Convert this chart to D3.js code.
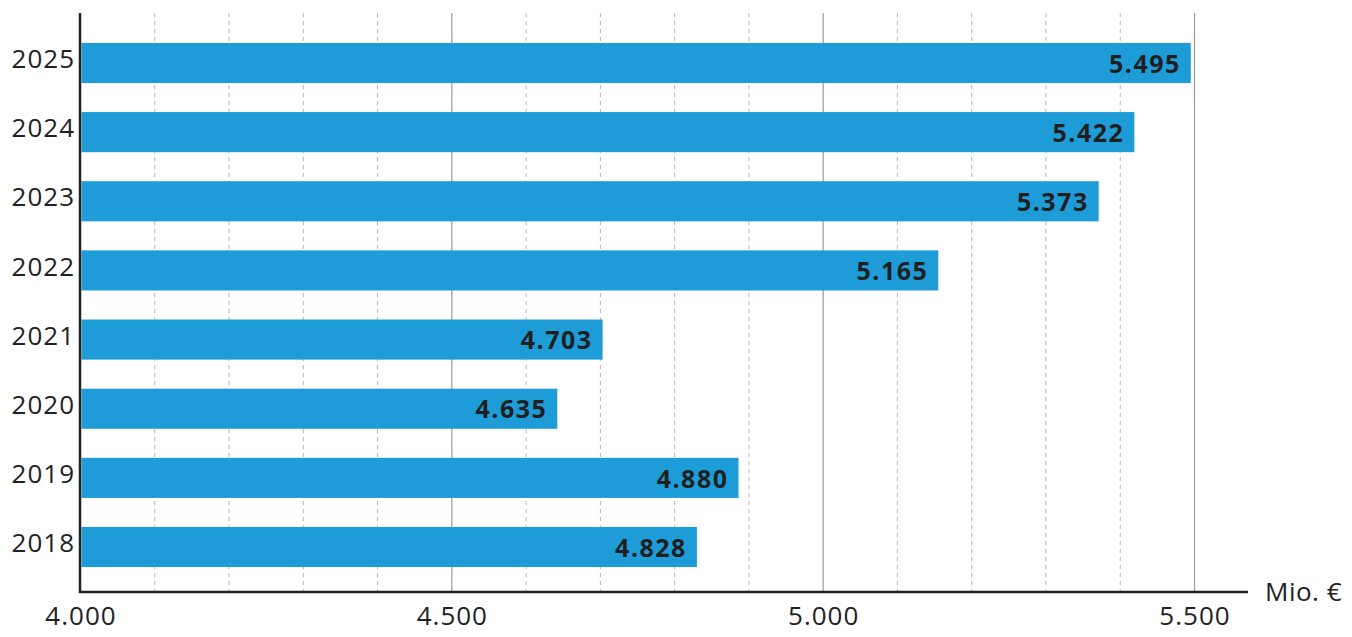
<!DOCTYPE html>
<html><head><meta charset="utf-8">
<script src="https://cdn.jsdelivr.net/npm/d3@7/dist/d3.min.js"></script>
<style>
body{margin:0;background:#fff;}
svg{display:block;font-family:"Open Sans",sans-serif;}
</style></head>
<body><svg id="c" width="1352" height="637"></svg>
<script>
const years = ["2025","2024","2023","2022","2021","2020","2019","2018"];
// bar lengths as drawn in the reference (Mio. €)
const barValues = [5495, 5419, 5371, 5155, 4703, 4642, 4886, 4830];
// printed value labels
const valueLabels = ["5.495","5.422","5.373","5.165","4.703","4.635","4.880","4.828"];
const majorTicks = [4000, 4500, 5000, 5500];
const minorTicks = [4100,4200,4300,4400,4600,4700,4800,4900,5100,5200,5300,5400];
const unitLabel = "Mio. €";

const tickFmt = v => (v/1000).toFixed(3);

const svg = d3.select("#c");
const x = d3.scaleLinear().domain([4000, 5500]).range([80.5, 1194.5]);
const y = d3.scaleBand().domain(years).range([28.4, 581.6]).paddingInner(0.42).paddingOuter(0.21);
const plotTop = 13, plotBottom = 592;

// minor dashed grid
svg.append("g").selectAll("line").data(minorTicks).join("line")
  .attr("x1", d => x(d)).attr("x2", d => x(d))
  .attr("y1", plotTop).attr("y2", plotBottom)
  .attr("stroke", "#b5b5b5").attr("stroke-width", 1).attr("stroke-dasharray", "4,4");
// major solid grid
svg.append("g").selectAll("line").data(majorTicks.slice(1)).join("line")
  .attr("x1", d => x(d)).attr("x2", d => x(d))
  .attr("y1", plotTop).attr("y2", plotBottom)
  .attr("stroke", "#9a9a9a").attr("stroke-width", 1.2);

// bars
svg.append("g").selectAll("rect").data(years).join("rect")
  .attr("x", x(4000) + 1)
  .attr("y", d => y(d))
  .attr("width", (d,i) => x(barValues[i]) - x(4000) - 1)
  .attr("height", y.bandwidth())
  .attr("fill", "#1e9cd8");

// value labels
svg.append("g").selectAll("text").data(years).join("text")
  .attr("x", (d,i) => x(barValues[i]) - 10)
  .attr("y", d => y(d) + y.bandwidth()/2 + 1)
  .attr("dy", "0.35em")
  .attr("text-anchor", "end")
  .attr("font-size", 25).attr("font-weight", "bold").attr("fill", "#1f1f1f")
  .attr("letter-spacing", 1.5)
  .text((d,i) => valueLabels[i]);

// x axis tick labels
const xAxis = d3.axisBottom(x).tickValues(majorTicks).tickSize(0).tickPadding(15).tickFormat(tickFmt);
const gx = svg.append("g").attr("transform", `translate(0,${plotBottom})`).call(xAxis);
gx.select(".domain").remove();
gx.selectAll("text").attr("font-size", 26).attr("fill", "#222")
  .attr("letter-spacing", 1).attr("font-family", '"Open Sans",sans-serif');

// y axis labels
const yAxis = d3.axisLeft(y).tickSize(0).tickPadding(5);
const gy = svg.append("g").attr("transform", "translate(80,0)").call(yAxis);
gy.select(".domain").remove();
gy.selectAll("text").attr("font-size", 26).attr("fill", "#222")
  .attr("letter-spacing", 1).attr("dy", "0.2em").attr("font-family", '"Open Sans",sans-serif');

// axis lines
svg.append("line").attr("x1", 79).attr("x2", 1248).attr("y1", plotBottom).attr("y2", plotBottom)
  .attr("stroke", "#222").attr("stroke-width", 2.5);
svg.append("line").attr("x1", 80).attr("x2", 80).attr("y1", plotTop).attr("y2", plotBottom + 1)
  .attr("stroke", "#222").attr("stroke-width", 2.5);

svg.append("text").attr("x", 1265).attr("y", plotBottom + 9)
  .attr("font-size", 26).attr("fill", "#222").attr("letter-spacing", 0.5).text(unitLabel);
</script></body></html>
